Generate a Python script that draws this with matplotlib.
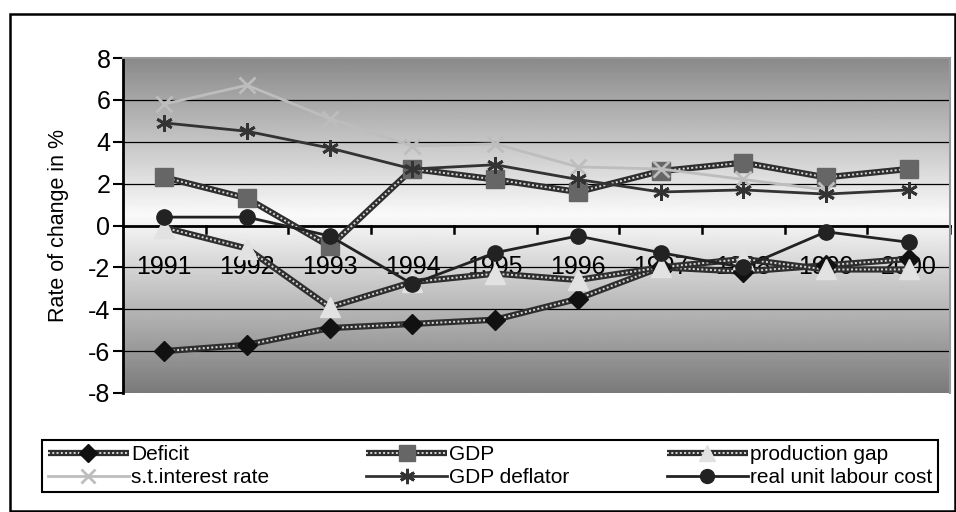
import numpy as np
import matplotlib
matplotlib.use("Agg")
import matplotlib.pyplot as plt
from matplotlib.lines import Line2D
from matplotlib.patches import Rectangle

plt.rcParams['font.family'] = ['Liberation Sans', 'DejaVu Sans']

# data
years = ['1991', '1992', '1993', '1994', '1995', '1996', '1997', '1998', '1999', '2000']
deficit = [-6.0, -5.7, -4.9, -4.7, -4.5, -3.5, -2.0, -2.2, -1.9, -1.6]
gdp = [2.3, 1.3, -1.0, 2.7, 2.2, 1.6, 2.6, 3.0, 2.3, 2.7]
prod_gap = [-0.1, -1.1, -3.9, -2.7, -2.3, -2.6, -2.0, -1.6, -2.1, -2.1]
interest = [5.8, 6.7, 5.1, 3.8, 3.9, 2.8, 2.7, 2.2, 1.7, np.nan]
deflator = [4.9, 4.5, 3.7, 2.7, 2.9, 2.2, 1.6, 1.7, 1.5, 1.7]
labour = [0.4, 0.4, -0.5, -2.8, -1.3, -0.5, -1.3, -2.0, -0.3, -0.8]

x = np.arange(len(years))

fig = plt.figure(figsize=(9.56, 5.12), dpi=100)
ax = fig.add_axes([123 / 956, 1 - 393 / 512, 827 / 956, 335 / 512])

# outer chart frame
fig.patches.append(Rectangle((10 / 956, 1 / 512), 945 / 956, 497 / 512, transform=fig.transFigure,
                             fill=False, edgecolor='black', linewidth=1.8))

# gradient background: dark at top/bottom, light in the middle
ys = np.linspace(8, -8, 300)
shade = 0.98 - 0.50 * np.abs(ys - 0.5) / 8.5
grad = np.repeat(shade[:, None], 2, axis=1)
ax.imshow(grad, cmap='gray', vmin=0, vmax=1, aspect='auto',
          extent=[-0.5, 9.5, -8, 8], zorder=0, interpolation='bilinear')

ax.set_xlim(-0.5, 9.5)
ax.set_ylim(-8, 8)

# gridlines
for g in [-6, -4, -2, 2, 4, 6]:
    ax.axhline(g, color='black', lw=0.9, zorder=1)


def hatched(vals, marker, mfc, ms):
    ax.plot(x, vals, color='#2e2e2e', lw=4.5, zorder=2, solid_capstyle='butt')
    ax.plot(x, vals, color='#d8d8d8', lw=1.4, ls=(0, (1, 1.2)), zorder=2)
    ax.plot(x, vals, ls='none', marker=marker, mfc=mfc, mec=mfc, ms=ms, zorder=3)


hatched(deficit, 'D', '#111111', 10)
hatched(gdp, 's', '#666666', 13)
hatched(prod_gap, '^', '#e2e2e2', 14)
ax.plot(x, interest, color='#bdbdbd', lw=2, marker='x', ms=11, mew=2, zorder=4)
ax.plot(x, deflator, color='#333333', lw=2, marker=(6, 2, 0), ms=12, mew=2, zorder=4)
ax.plot(x, labour, color='#222222', lw=2, marker='o', ms=11, zorder=4)

# axes styling
for s in ['top', 'right']:
    ax.spines[s].set_color('#999999')
    ax.spines[s].set_linewidth(1.5)
ax.spines['left'].set_linewidth(2)
ax.spines['bottom'].set_position(('data', 0))
ax.spines['bottom'].set_linewidth(2)
ax.spines['bottom'].set_zorder(1.5)

ax.set_yticks(range(-8, 9, 2))
ax.set_yticklabels([str(v) for v in range(-8, 9, 2)], fontsize=18)
ax.tick_params(axis='y', length=7, width=1.5, pad=2)

ax.set_xticks(np.arange(-0.5, 10, 1))
ax.set_xticklabels([])
ax.tick_params(axis='x', which='major', direction='in', length=0)
ax.set_xticks(x, minor=True)
ax.set_xticklabels(years, minor=True, fontsize=18)
ax.tick_params(axis='x', which='minor', length=0, pad=21)
for xb in np.arange(0.5, 10, 1):
    ax.plot([xb, xb], [0, -0.35], color='black', lw=1.8, zorder=1.5)
ax.plot([9.5, 9.5], [0, -0.35], color='black', lw=1.8, zorder=1.5, clip_on=False)

ax.set_ylabel('Rate of change in %', fontsize=15.5, labelpad=14)

# legend
def hatched_handle(marker, mfc, ms):
    return (Line2D([], [], color='#2e2e2e', lw=4.5, solid_capstyle='butt'),
            Line2D([], [], color='#d8d8d8', lw=1.4, ls=(0, (1, 1.2))),
            Line2D([], [], ls='none', marker=marker, mfc=mfc, mec=mfc, ms=ms))


h_def = hatched_handle('D', '#111111', 9)
h_gdp = hatched_handle('s', '#666666', 11)
h_gap = hatched_handle('^', '#e2e2e2', 12)
h_int = Line2D([], [], color='#bdbdbd', lw=2, marker='x', ms=10, mew=2)
h_dfl = Line2D([], [], color='#333333', lw=2, marker=(6, 2, 0), ms=11, mew=2)
h_lab = Line2D([], [], color='#222222', lw=2, marker='o', ms=10)

handles = [h_def, h_int, h_gdp, h_dfl, h_gap, h_lab]
labels = ['Deficit', 's.t.interest rate', 'GDP', 'GDP deflator', 'production gap', 'real unit labour cost']
leg = fig.legend(handles, labels, ncol=3, loc='center', mode='expand',
                 bbox_to_anchor=(32 / 956, 1 - 499 / 512, 916 / 956, 66 / 512),
                 fontsize=15, handlelength=3.9, handletextpad=0.1, labelspacing=0.2,
                 borderpad=0.25, fancybox=False, framealpha=1, edgecolor='black')
leg.get_frame().set_linewidth(1.5)

fig.savefig('out.png', dpi=100)
